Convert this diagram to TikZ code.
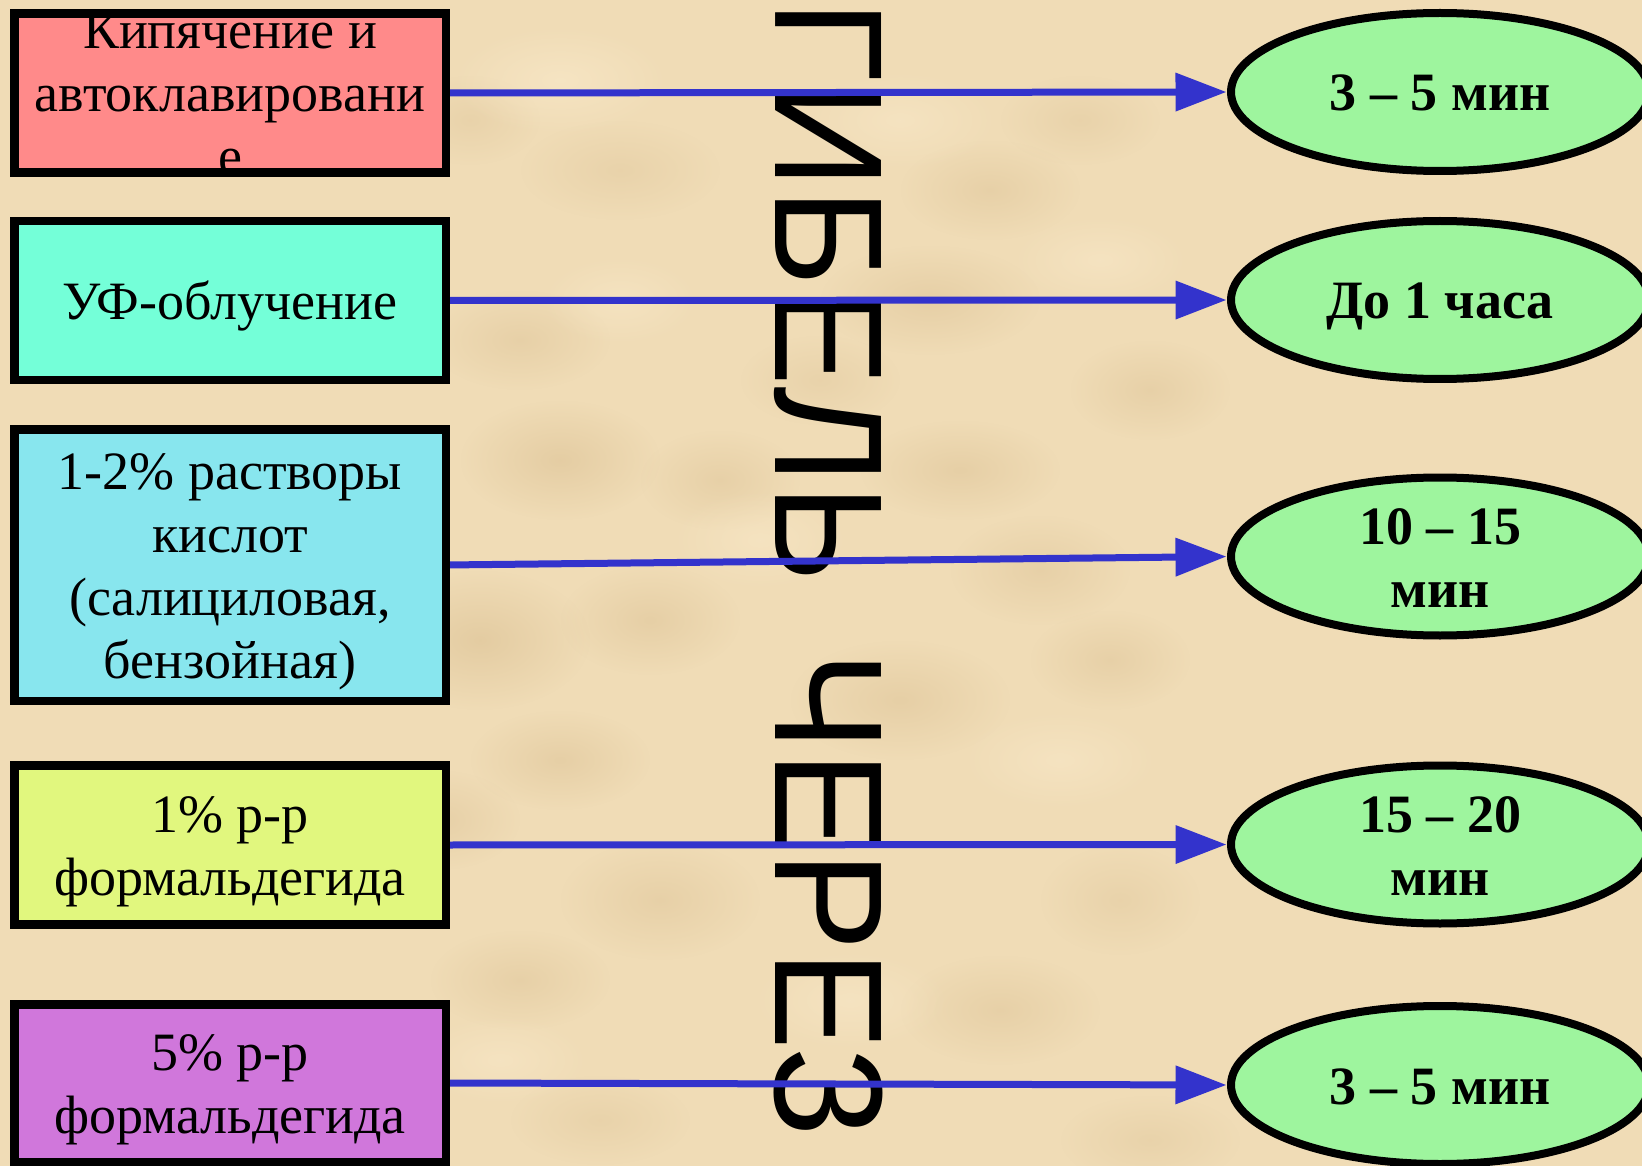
\documentclass[tikz,border=0pt]{standalone}
\usepackage{fontspec}
\setmainfont{Liberation Serif}
\newfontfamily\capsans{Liberation Sans}
\usetikzlibrary{arrows.meta,shapes.geometric,fadings}

\definecolor{paper}{HTML}{F0DCB6}
\definecolor{papershade}{HTML}{CDAE7C}
\definecolor{paperlight}{HTML}{FAEACB}
\definecolor{arrowblue}{HTML}{3333CC}
\definecolor{boilfill}{HTML}{FF8A8A}
\definecolor{uvfill}{HTML}{74FFD8}
\definecolor{acidfill}{HTML}{88E6EE}
\definecolor{formonefill}{HTML}{E1F77E}
\definecolor{formfivefill}{HTML}{D077DB}
\definecolor{timefill}{HTML}{9EF59E}

\tikzfading[name=softblob, inner color=transparent!0, outer color=transparent!100]

% every text line gets the same height/depth so baselines sit 63pt apart
\newcommand\lnstrut{\rule[-12.5pt]{0pt}{63pt}}

\tikzset{
  agent/.style={rectangle, minimum width=431.5pt, minimum height=159pt,
    inner xsep=0pt, inner ysep=-40pt, outer sep=0pt, align=center,
    font=\fontsize{54pt}{63pt}\selectfont},
  frame/.style={draw=black, line width=8.5pt},
  timebox/.style={ellipse, draw=black, line width=8pt, fill=timefill,
    minimum width=418pt, minimum height=158pt, inner xsep=0pt,
    inner ysep=-25pt, outer sep=0pt, align=center,
    font=\bfseries\fontsize{54pt}{63pt}\selectfont},
  link/.style={draw=arrowblue, line width=7pt,
    -{Triangle[length=51pt, width=37pt]}, shorten >=4.5pt},
  blob/.style={path fading=softblob}
}

\begin{document}
\begin{tikzpicture}[x=1pt, y=-1pt]
  \useasboundingbox (0,0) rectangle (1642,1166);
  % parchment background
  \fill[paper] (0,0) rectangle (1642,1166);
  \foreach \bx/\by/\brx/\bry/\bo in {
      480/640/110/70/0.35, 560/460/100/60/0.32, 650/620/90/55/0.28,
      520/340/90/50/0.25, 930/300/110/55/0.28, 960/470/100/50/0.28,
      1040/570/90/55/0.25, 900/700/110/60/0.28, 1110/660/80/50/0.25,
      660/900/100/60/0.25, 520/980/90/50/0.25, 1000/1010/100/55/0.25,
      990/190/90/50/0.25, 620/170/100/50/0.20, 1150/390/80/50/0.25,
      720/480/80/50/0.25, 440/820/80/50/0.25, 1120/900/80/55/0.20,
      560/760/90/50/0.28, 820/380/80/45/0.20, 1080/120/80/45/0.20,
      470/120/70/45/0.20, 1150/1140/90/45/0.20, 600/1120/90/45/0.20}
    \fill[papershade, blob, fill opacity=\bo] (\bx,\by) ellipse ({\brx} and {\bry});
  \foreach \bx/\by/\brx/\bry/\bo in {
      560/80/110/55/0.6, 900/120/100/50/0.5, 760/540/90/50/0.5,
      1060/760/100/50/0.5, 500/1060/90/45/0.5, 850/1000/100/50/0.5,
      1100/260/90/45/0.5, 620/300/80/45/0.5}
    \fill[paperlight, blob, fill opacity=\bo] (\bx,\by) ellipse ({\brx} and {\bry});

  % vertical caption
  \node[rotate=-90, xscale=0.97, anchor=base west, inner sep=0pt,
        font=\capsans\fontsize{154pt}{154pt}\selectfont]
    (caption) at (775,0) {ГИБЕЛЬ\hspace{72pt}ЧЕРЕЗ};

  % treatments
  \node[agent, fill=boilfill] (b1) at (230,93)
    {\lnstrut Кипячение и\\\lnstrut автоклавировани\\\lnstrut е};
  \node[agent, fill=uvfill] (b2) at (230,300.5)
    {\lnstrut УФ-облучение};
  \node[agent, fill=acidfill, minimum height=271.5pt] (b3) at (230,565)
    {\lnstrut 1-2\% растворы\\\lnstrut кислот\\\lnstrut (салициловая,\\\lnstrut бензойная)};
  \node[agent, fill=formonefill] (b4) at (230,845)
    {\lnstrut 1\% р-р\\\lnstrut формальдегида};
  \node[agent, fill=formfivefill, minimum height=157.5pt] (b5) at (230,1083)
    {\lnstrut 5\% р-р\\\lnstrut формальдегида};

  % times
  \node[timebox] (t1) at (1440,92) {\lnstrut 3 – 5 мин};
  \node[timebox] (t2) at (1440,300) {\lnstrut До 1 часа};
  \node[timebox] (t3) at (1440,556.5) {\lnstrut 10 – 15\\\lnstrut мин};
  \node[timebox] (t4) at (1440,844.5) {\lnstrut 15 – 20\\\lnstrut мин};
  \node[timebox] (t5) at (1440,1085) {\lnstrut 3 – 5 мин};

  % connectors
  \draw[link] (b1.east) -- (t1.west);
  \draw[link] (b2.east) -- (t2.west);
  \draw[link] (b3.east) -- (t3.west);
  \draw[link] (b4.east) -- (t4.west);
  \draw[link] (b5.east) -- (t5.west);

  % box frames over their text
  \foreach \b in {b1,b2,b3,b4,b5}
    \draw[frame] (\b.north west) rectangle (\b.south east);
\end{tikzpicture}
\end{document}
